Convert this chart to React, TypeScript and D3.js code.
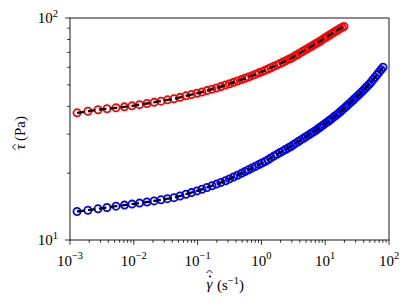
import React from "react";
import * as d3 from "d3";

// shear rate values (s^-1), shared by both series
const shearRate = [
  0.00129, 0.00191, 0.00275, 0.0038, 0.00526, 0.00714, 0.00938, 0.0123, 0.0161, 0.0208,
  0.0267, 0.0337, 0.0427, 0.053, 0.0658, 0.0802, 0.0979, 0.117, 0.14, 0.168,
  0.198, 0.233, 0.274, 0.316, 0.366, 0.422, 0.488, 0.553, 0.628, 0.713,
  0.809, 0.917, 1.02, 1.14, 1.27, 1.41, 1.57, 1.76, 1.96, 2.18,
  2.39, 2.61, 2.86, 3.13, 3.42, 3.75, 4.1, 4.49, 4.91, 5.37,
  5.78, 6.21, 6.67, 7.18, 7.71, 8.28, 8.91, 9.57, 10.3, 11.1,
  11.9, 12.8, 13.7, 14.8, 15.9, 17.1, 18.3, 19.7, 20.8, 22.0,
  23.6, 25.4, 27.3, 29.3, 31.5, 33.9, 36.4, 39.1, 42.1, 45.2,
  48.6, 52.2, 56.1, 60.4, 64.9, 69.7, 75.0, 80.5,
];

// red series stress (Pa)
const stressRed = [
  37.4, 38.0, 38.6, 39.0, 39.4, 39.8, 40.2, 40.7, 41.2, 41.7,
  42.2, 42.8, 43.3, 43.9, 44.6, 45.2, 45.8, 46.4, 47.1, 47.8,
  48.4, 49.1, 49.9, 50.5, 51.3, 52.0, 52.8, 53.5, 54.2, 55.0,
  55.8, 56.6, 57.3, 58.1, 58.9, 59.7, 60.6, 61.4, 62.3, 63.3,
  64.1, 64.9, 65.7, 66.6, 67.7, 68.7, 69.8, 70.8, 71.9, 73.0,
  73.9, 74.8, 75.8, 76.7, 77.6, 78.6, 79.7, 80.8, 81.9, 83.0,
  84.1, 85.2, 86.3, 87.4, 88.5, 89.6, 90.6, 91.6,
];

// blue series stress (Pa)
const stressBlue = [
  13.44, 13.62, 13.82, 14.01, 14.2, 14.36, 14.51, 14.66, 14.83, 15.0,
  15.17, 15.35, 15.51, 15.78, 16.08, 16.35, 16.64, 16.92, 17.24, 17.56,
  17.86, 18.17, 18.48, 18.84, 19.22, 19.58, 19.97, 20.35, 20.71, 21.1,
  21.49, 21.88, 22.22, 22.57, 22.99, 23.43, 23.87, 24.32, 24.78, 25.2,
  25.57, 25.94, 26.32, 26.79, 27.24, 27.69, 28.16, 28.63, 29.11, 29.59,
  29.99, 30.36, 30.78, 31.19, 31.68, 32.18, 32.66, 33.16, 33.69, 34.18,
  34.71, 35.29, 35.89, 36.49, 37.1, 37.72, 38.43, 39.15, 39.68, 40.27,
  41.03, 41.8, 42.63, 43.48, 44.34, 45.23, 46.13, 47.04, 48.12, 49.13,
  50.2, 51.37, 52.73, 54.12, 55.54, 57.0, 58.49, 60.03,
];

const xTickExponents = ["−3", "−2", "−1", "0", "1", "2"];
const yTickExponents = ["1", "2"];

const FONT = "'Liberation Serif', 'DejaVu Serif', serif";

export default function App() {
  const W = 413, H = 306;
  const L = 70, R = 389, T = 18, B = 240;
  const x = d3.scaleLog().domain([1e-3, 1e2]).range([L, R]);
  const y = d3.scaleLog().domain([10, 100]).range([B, T]);

  const red = stressRed.map((v, i) => [shearRate[i], v] as [number, number]);
  const blue = stressBlue.map((v, i) => [shearRate[i], v] as [number, number]);

  const line = d3
    .line<[number, number]>()
    .x((d) => x(d[0]))
    .y((d) => y(d[1]))
    .curve(d3.curveMonotoneX);

  const isMajor = (v: number) => Math.abs(Math.log10(v) - Math.round(Math.log10(v))) < 1e-9;
  const xTicks = x.ticks();
  const yTicks = y.ticks();
  const xMajors = xTicks.filter(isMajor);
  const yMajors = yTicks.filter(isMajor);

  const gx = 209.5;
  const tauC = -18;

  return (
    <svg
      width={W}
      height={H}
      style={{ position: "fixed", left: 0, top: 0, background: "#fff", fontFamily: FONT }}
    >
      <rect x={0} y={0} width={W} height={H} fill="#fff" />
      <g fill="none" strokeWidth={1.8}>
        {red.map((d, i) => (
          <circle key={"r" + i} cx={x(d[0])} cy={y(d[1])} r={3.6} stroke="#ff0000" />
        ))}
        {blue.map((d, i) => (
          <circle key={"b" + i} cx={x(d[0])} cy={y(d[1])} r={3.6} stroke="#0000ff" />
        ))}
      </g>
      <g fill="none" stroke="#000" strokeWidth={2.3} strokeDasharray="7.6,3.4">
        <path d={line(red) || ""} />
        <path d={line(blue) || ""} />
      </g>
      <rect x={L} y={T} width={R - L} height={B - T} fill="none" stroke="#000" strokeWidth={0.9} />
      <g stroke="#000" strokeWidth={0.8}>
        {xTicks.map((t, i) => (
          <line key={"xt" + i} x1={x(t)} x2={x(t)} y1={B} y2={B + (isMajor(t) ? 4.9 : 2.8)} />
        ))}
        {yTicks.map((t, i) => (
          <line key={"yt" + i} x1={L} x2={L - (isMajor(t) ? 4.9 : 2.8)} y1={y(t)} y2={y(t)} />
        ))}
      </g>
      <g fontSize={15} fill="#000">
        {xMajors.map((t, i) => (
          <text key={"xl" + i} x={x(t)} y={265.5} textAnchor="middle">
            10
            <tspan fontSize={10.5} dy={-6.5}>
              {xTickExponents[i]}
            </tspan>
          </text>
        ))}
        {yMajors.map((t, i) => (
          <text key={"yl" + i} x={58} y={y(t) + 5} textAnchor="end">
            10
            <tspan fontSize={10.5} dy={-6.5}>
              {yTickExponents[i]}
            </tspan>
          </text>
        ))}
      </g>
      <g fill="#000" fontSize={15}>
        <text x={gx} y={289} textAnchor="middle" fontStyle="italic">
          γ
        </text>
        <circle cx={gx + 0.5} cy={276.5} r={1.1} fill="#000" />
        <path d={`M${gx - 3},${273} L${gx},${270} L${gx + 3},${273}`} fill="none" stroke="#000" strokeWidth={0.9} />
        <text x={217} y={290} textAnchor="start">
          (s
          <tspan fontSize={10.5} dy={-6.5}>
            −1
          </tspan>
          <tspan dy={6.5}>)</tspan>
        </text>
      </g>
      <g transform="translate(24.5,129) rotate(-90)" fill="#000" fontSize={15}>
        <text x={tauC} y={0} textAnchor="middle" fontStyle="italic">
          τ
        </text>
        <path
          d={`M${tauC - 3},${-9} L${tauC},${-12} L${tauC + 3},${-9}`}
          fill="none"
          stroke="#000"
          strokeWidth={0.9}
        />
        <text x={-12} y={0} textAnchor="start">
          (Pa)
        </text>
      </g>
    </svg>
  );
}
